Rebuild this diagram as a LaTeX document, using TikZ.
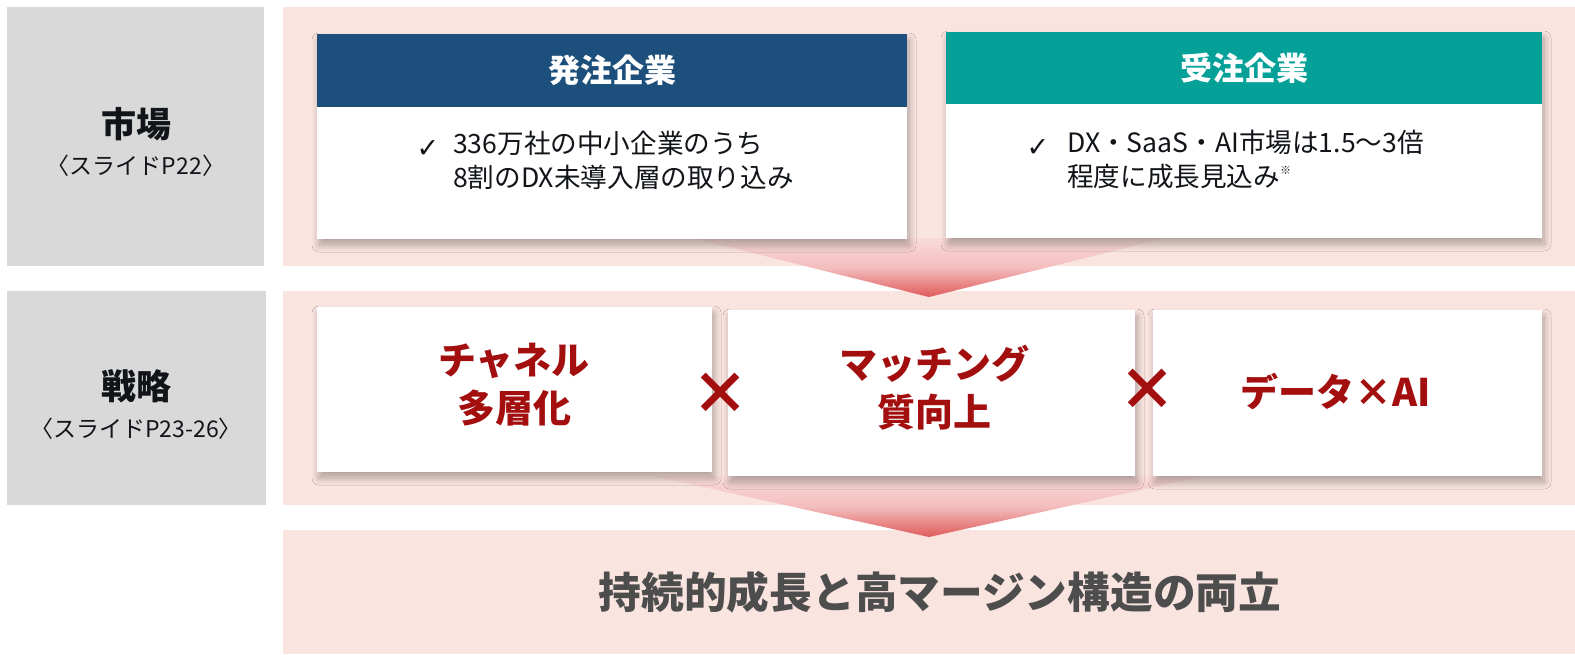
\documentclass[tikz,border=0pt]{standalone}
\usepackage{fontspec}
\setmainfont{Noto Sans CJK JP}
\newfontfamily\symfont{DejaVu Sans}
\usetikzlibrary{shadows.blur}
\definecolor{grayband}{HTML}{D9D9D9}
\definecolor{pinkband}{HTML}{FAE4E0}
\definecolor{navy}{HTML}{1D4F7C}
\definecolor{teal}{HTML}{05A199}
\definecolor{darkred}{HTML}{A30F0F}
\definecolor{ink}{HTML}{111418}
\definecolor{bottomink}{HTML}{4D4D4D}
\definecolor{funneltop}{HTML}{F8DCDA}
\definecolor{funnelmid}{HTML}{F3BDBD}
\definecolor{funnelbot}{HTML}{E05A5A}
\tikzset{
  box/.style={draw=none, anchor=north west, inner sep=0pt, outer sep=0pt},
  graybox/.style={box, fill=grayband},
  pinkbox/.style={box, fill=pinkband},
  card/.style={box, fill=white, blur shadow={shadow xshift=2pt, shadow yshift=-6pt, shadow blur radius=7pt, shadow blur steps=10, shadow opacity=30}},
  lbl/.style={text=ink, font=\fontsize{35}{38}\selectfont\bfseries},
  sublbl/.style={text=ink, font=\fontsize{23}{26}\selectfont},
  headtxt/.style={text=white, font=\fontsize{32}{34}\selectfont\bfseries},
  bodytxt/.style={text=ink, font=\fontsize{26.6}{34}\selectfont, align=left, anchor=north west, inner sep=0pt},
  chk/.style={text=ink, font=\symfont\fontsize{27}{30}\selectfont, inner sep=0pt},
  strat/.style={text=darkred, font=\fontsize{38}{48}\selectfont\bfseries, align=center},
  times/.style={text=darkred, font=\fontsize{58}{58}\selectfont\bfseries},
  result/.style={text=bottomink, font=\fontsize{42.7}{46}\selectfont\bfseries},
  funnel/.style={top color=funneltop, bottom color=funnelbot, middle color=funnelmid}
}
\begin{document}
\begin{tikzpicture}[x=1pt,y=-1pt]
\useasboundingbox (0,0) rectangle (1575,654);
\fill[white] (0,0) rectangle (1575,654);

% bands
\node[graybox, minimum width=257pt, minimum height=259pt] (g1) at (7,7) {};
\node[pinkbox, minimum width=1292pt, minimum height=259pt] (p1) at (283,7) {};
\node[graybox, minimum width=259pt, minimum height=214pt] (g2) at (7,291) {};
\node[pinkbox, minimum width=1292pt, minimum height=214pt] (p2) at (283,291) {};
\node[pinkbox, minimum width=1292pt, minimum height=124pt] (p3) at (283,530) {};

% funnels
\coordinate (f1a) at (929,297);
\coordinate (f1l) at (693,238);
\coordinate (f1r) at (1165,238);
\shade[funnel] (f1l) -- (f1r) -- (f1a) -- cycle;
\coordinate (f2a) at (929,537);
\coordinate (f2l) at (654,476);
\coordinate (f2r) at (1204,476);
\shade[funnel] (f2l) -- (f2r) -- (f2a) -- cycle;

% labels
\node[lbl] (l1) at (136,124) {市場};
\node[sublbl] (l1s) at (136,166) {〈スライドP22〉};
\node[lbl] (l2) at (136,386) {戦略};
\node[sublbl] (l2s) at (136,429) {〈スライドP23-26〉};

% market cards
\node[card, minimum width=590pt, minimum height=205pt] (c1) at (317,34) {};
\node[box, fill=navy, minimum width=590pt, minimum height=73pt] (h1) at (317,34) {};
\node[headtxt] (h1t) at (h1.center) {発注企業};
\node[chk] (k1) at (428,149) {✓};
\node[bodytxt] (b1) at (453,131) {336万社の中小企業のうち\\8割のDX未導入層の取り込み};

\node[card, minimum width=596pt, minimum height=206pt] (c2) at (946,32) {};
\node[box, fill=teal, minimum width=596pt, minimum height=72pt] (h2) at (946,32) {};
\node[headtxt] (h2t) at (h2.center) {受注企業};
\node[chk] (k2) at (1038,148) {✓};
\node[bodytxt] (b2) at (1067,130) {DX・SaaS・AI市場は1.5〜3倍\\程度に成長見込み{\fontsize{11}{11}\selectfont\raisebox{12pt}{※}}};

% strategy cards
\node[card, minimum width=395pt, minimum height=165pt] (s1) at (317,307) {};
\node[card, minimum width=407pt, minimum height=166pt] (s2) at (728,310) {};
\node[card, minimum width=389pt, minimum height=166pt] (s3) at (1153,310) {};
\node[strat] (s1t) at (514,385) {チャネル\\多層化};
\node[strat] (s2t) at (934,388) {マッチング\\質向上};
\node[strat] (s3t) at (1336,392) {データ×AI};
\node[times] (x1) at (720,394) {×};
\node[times] (x2) at (1147,390) {×};

% result
\node[result] (r) at (940,592) {持続的成長と高マージン構造の両立};
\end{tikzpicture}
\end{document}
